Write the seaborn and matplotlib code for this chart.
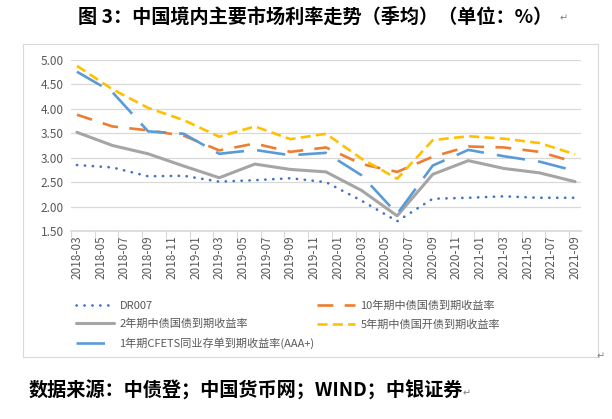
import numpy as np
import pandas as pd
import matplotlib
matplotlib.use("Agg")
import matplotlib.pyplot as plt
import seaborn as sns
from matplotlib.patches import Rectangle

# eixo mensal 2018-03 .. 2021-09, dados trimestrais (季均)
meses = pd.period_range("2018-03", "2021-09", freq="M").strftime("%Y-%m").tolist()
trimestres = ["2018-03", "2018-06", "2018-09", "2018-12", "2019-03", "2019-06", "2019-09",
              "2019-12", "2020-03", "2020-06", "2020-09", "2020-12", "2021-03", "2021-06", "2021-09"]

dr007 = [2.85, 2.80, 2.62, 2.63, 2.51, 2.54, 2.58, 2.50, 2.12, 1.70, 2.16, 2.18, 2.21, 2.18, 2.18]
gz10 = [3.88, 3.64, 3.56, 3.45, 3.15, 3.29, 3.12, 3.21, 2.87, 2.71, 3.02, 3.23, 3.21, 3.12, 2.91]
gz2 = [3.52, 3.25, 3.08, 2.83, 2.59, 2.87, 2.76, 2.71, 2.33, 1.81, 2.66, 2.94, 2.78, 2.69, 2.51]
gk5 = [4.88, 4.40, 4.02, 3.77, 3.43, 3.64, 3.38, 3.49, 2.98, 2.57, 3.36, 3.44, 3.39, 3.30, 3.07]
cd1 = [4.76, 4.34, 3.54, 3.49, 3.08, 3.16, 3.05, 3.10, 2.64, 1.85, 2.84, 3.16, 3.03, 2.92, 2.73]

series = [
    ("DR007", dr007, "#4472C4", (0, (0.1, 2.9)), 1.9),
    ("10年期中债国债到期收益率", gz10, "#ED7D31", (0, (6, 4.3)), 1.9),
    ("2年期中债国债到期收益率", gz2, "#A5A5A5", "-", 2.2),
    ("5年期中债国开债到期收益率", gk5, "#FFC000", (0, (3.8, 2)), 1.9),
    ("1年期CFETS同业存单到期收益率(AAA+)", cd1, "#5B9BD5", (0, (10.8, 5)), 1.9),
]

sns.set_theme(style="white")
plt.rcParams["font.family"] = ["Noto Sans CJK SC", "DejaVu Sans"]
cinza = "#595959"

fig = plt.figure(figsize=(6.12, 4.19), dpi=100)
ax = fig.add_axes([71 / 612, 1 - 231 / 419, 510 / 612, 171 / 419])

# posição no centro da categoria mensal
pos = [meses.index(t) + 0.5 for t in trimestres]
linhas = {}
for nome, valores, cor, estilo, lw in series:
    sns.lineplot(x=pos, y=valores, color=cor, linestyle=estilo, linewidth=lw, ax=ax,
                 label=nome, dash_capstyle="round" if nome == "DR007" else "butt")
    linhas[nome] = ax.lines[-1]

ax.set_xlim(0, len(meses))
ax.set_ylim(1.5, 5.0)
ax.set_yticks(np.arange(1.5, 5.01, 0.5))
ax.set_yticklabels([f"{v:.2f}" for v in np.arange(1.5, 5.01, 0.5)], fontsize=8.5, color=cinza)
ax.set_xticks(np.arange(0, len(meses), 2) + 0.5)
ax.set_xticklabels(meses[::2], rotation=90, fontsize=8.5, color=cinza)
ax.set_xticks(np.arange(0, len(meses), 2), minor=True)
ax.tick_params(axis="x", which="major", length=0, pad=3)
ax.tick_params(axis="x", which="minor", length=5, color="#D9D9D9", width=0.8, direction="out", bottom=True)
ax.tick_params(axis="y", length=0, pad=5)
ax.grid(axis="y", color="#D9D9D9", linewidth=0.9)
for lado in ["left", "right", "top"]:
    ax.spines[lado].set_visible(False)
ax.spines["bottom"].set_color("#D9D9D9")
ax.set_xlabel("")
ax.set_ylabel("")

# legenda em duas colunas
ax.get_legend().remove()
esq = ["DR007", "2年期中债国债到期收益率", "1年期CFETS同业存单到期收益率(AAA+)"]
dir_ = ["10年期中债国债到期收益率", "5年期中债国开债到期收益率"]
kw = dict(loc="upper left", frameon=False, fontsize=8, labelcolor=cinza, borderpad=0,
          handlelength=3.5, handletextpad=0.45, labelspacing=0.75, bbox_transform=fig.transFigure)
leg1 = ax.legend([linhas[n] for n in esq], esq, bbox_to_anchor=(70 / 612, 1 - 295 / 419), **kw)
ax.add_artist(leg1)
ax.legend([linhas[n] for n in dir_], dir_, bbox_to_anchor=(311 / 612, 1 - 295 / 419), **kw)

# moldura do gráfico
fig.patches.append(Rectangle((22.7 / 612, 1 - 356.7 / 419), 575 / 612, 312.7 / 419,
                             transform=fig.transFigure, fill=False, edgecolor="#D9D9D9", linewidth=0.8))

fig.text(315 / 612, 1 - 17 / 419, "图 3：中国境内主要市场利率走势（季均）（单位：%）",
         ha="center", va="center", fontsize=13.8, fontweight="bold", color="black")
fig.text(564 / 612, 1 - 18 / 419, "↵", ha="center", va="center", fontsize=7, color="#808080")
fig.text(29 / 612, 1 - 391 / 419, "数据来源：中债登；中国货币网；WIND；中银证券",
         ha="left", va="center", fontsize=13.8, fontweight="bold", color="black")
fig.text(467 / 612, 1 - 393 / 419, "↵", ha="center", va="center", fontsize=7, color="#808080")
fig.text(601 / 612, 1 - 356 / 419, "↵", ha="center", va="center", fontsize=7, color="#808080")

fig.savefig("out.png", dpi=100)
